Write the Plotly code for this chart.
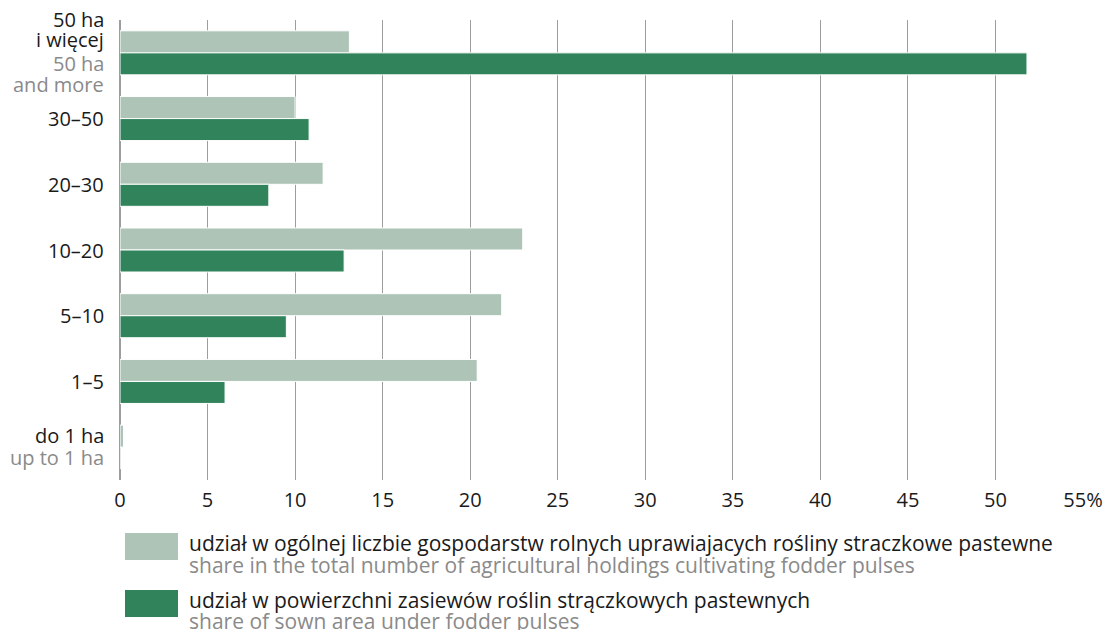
import plotly.graph_objects as go

category_keys = ["50+", "30-50", "20-30", "10-20", "5-10", "1-5", "0-1"]
labels_pl = [["50 ha", "i więcej"], ["30–50"], ["20–30"], ["10–20"], ["5–10"], ["1–5"], ["do 1 ha"]]
labels_en = [["50 ha", "and more"], [], [], [], [], [], ["up to 1 ha"]]

share_holdings = [13.1, 10.0, 11.6, 23.0, 21.8, 20.4, 0.2]
share_area = [51.8, 10.8, 8.5, 12.8, 9.5, 6.0, 0.0]

x_ticks = [0, 5, 10, 15, 20, 25, 30, 35, 40, 45, 50, 55]
x_ticktext = ["0", "5", "10", "15", "20", "25", "30", "35", "40", "45", "50", "55%"]

series_pl = ["udział w ogólnej liczbie gospodarstw rolnych uprawiajacych rośliny straczkowe pastewne",
             "udział w powierzchni zasiewów roślin strączkowych pastewnych"]
series_en = ["share in the total number of agricultural holdings cultivating fodder pulses",
             "share of sown area under fodder pulses"]

LIGHT = "#adc4b7"
DARK = "#31835b"
GREY_TXT = "#8a8a8a"
BLACK_TXT = "#1a1a1a"
FONT = "Open Sans, sans-serif"
FS = 20
FS_LEG = 21

PLOT_L, PLOT_T, PLOT_W, PLOT_H = 120, 20, 963, 460

fig = go.Figure()
fig.add_trace(go.Bar(y=category_keys, x=share_holdings, orientation="h", name=series_pl[0],
                     marker=dict(color=LIGHT, line=dict(color="white", width=1))))
fig.add_trace(go.Bar(y=category_keys, x=share_area, orientation="h", name=series_pl[1],
                     marker=dict(color=DARK, line=dict(color="white", width=1))))

n_cat = len(category_keys)
fig.update_layout(
    width=1107, height=630,
    margin=dict(l=PLOT_L, r=1107 - PLOT_L - PLOT_W, t=PLOT_T, b=630 - PLOT_T - PLOT_H, autoexpand=False),
    barmode="group", bargap=0.33, bargroupgap=0.0,
    plot_bgcolor="white", paper_bgcolor="white",
    showlegend=False,
    font=dict(family=FONT, size=FS, color=BLACK_TXT),
    xaxis=dict(range=[0, 55], tickvals=x_ticks, ticktext=x_ticktext, showgrid=True,
               gridcolor="#9d9d9d", gridwidth=1, zeroline=True, zerolinecolor="#9d9d9d",
               zerolinewidth=1.5, ticks="", fixedrange=True, automargin=False,
               ticklabelstandoff=6, tickfont=dict(size=FS, color=BLACK_TXT)),
    yaxis=dict(categoryorder="array", categoryarray=category_keys,
               range=[n_cat - 0.5, -0.5], fixedrange=True,
               showgrid=False, ticks="", showticklabels=False, automargin=False),
)

# y category labels: one annotation per line for tight line spacing
for key, pl, en in zip(category_keys, labels_pl, labels_en):
    lines = [(t, BLACK_TXT) for t in pl] + [(t, GREY_TXT) for t in en]
    n = len(lines)
    if n == 1:
        offs = [0]
    elif n == 2:
        offs = [12, -10]
    else:
        offs = [33, 13, -11, -32]
    for (t, c), o in zip(lines, offs):
        fig.add_annotation(xref="paper", yref="y", x=-14 / PLOT_W, y=key, yshift=o,
                           xanchor="right", yanchor="middle", showarrow=False,
                           text=t, font=dict(size=FS, family=FONT, color=c))

# legend (custom)
def py(pix):
    return (PLOT_T + PLOT_H - pix) / PLOT_H

def px(pix):
    return (pix - PLOT_L) / PLOT_W

sw_colors = [LIGHT, DARK]
sw_top = [533, 590]
txt_pl_y = [543, 600]
txt_en_y = [565, 621]
for i in range(2):
    fig.add_shape(type="rect", xref="paper", yref="paper",
                  x0=px(125), x1=px(178), y0=py(sw_top[i] + 27), y1=py(sw_top[i]),
                  fillcolor=sw_colors[i], line=dict(width=0))
    fig.add_annotation(xref="paper", yref="paper", x=px(187), y=py(txt_pl_y[i]),
                       xanchor="left", yanchor="middle", showarrow=False,
                       text=series_pl[i], font=dict(size=FS_LEG, family=FONT, color=BLACK_TXT))
    fig.add_annotation(xref="paper", yref="paper", x=px(187), y=py(txt_en_y[i]),
                       xanchor="left", yanchor="middle", showarrow=False,
                       text=series_en[i], font=dict(size=FS_LEG, family=FONT, color=GREY_TXT))

fig.write_html("out.html", config={"displayModeBar": False},
               post_script="document.body.style.margin='0';document.body.style.overflow='hidden';")
